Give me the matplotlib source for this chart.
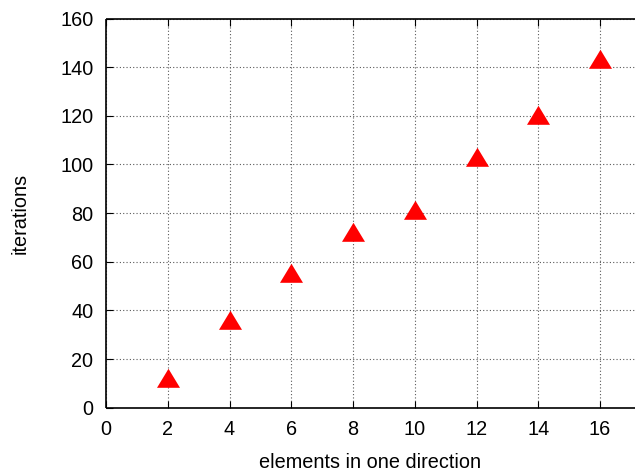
import numpy as np
import matplotlib
matplotlib.use("Agg")
import matplotlib.pyplot as plt

plt.rcParams['font.family'] = ['Liberation Sans', 'DejaVu Sans']

elements = [2, 4, 6, 8, 10, 12, 14, 16]
iterations = [11, 35, 54, 71, 80, 102, 119, 142]
xticks = [0, 2, 4, 6, 8, 10, 12, 14, 16]
yticks = [0, 20, 40, 60, 80, 100, 120, 140, 160]

# gnuplot style triangle: apex 2/3 of height above the point, base 1/3 below
tri = [(0, 12.7), (-11.5, -6.3), (11.5, -6.3), (0, 12.7)]

fig = plt.figure(figsize=(6.36, 4.72), dpi=100)
px_per_unit = 30.875
width_px = 529
ax = fig.add_axes([106/636, 1 - 407.7/472, width_px/636, 389.2/472])

ax.plot(elements, iterations, linestyle='none', marker=tri, markersize=18.3,
        color='red', markeredgewidth=0, zorder=3)

ax.set_xlim(0, width_px / px_per_unit)
ax.set_ylim(0, 160)
ax.set_xticks(xticks)
ax.set_yticks(yticks)
ax.tick_params(direction='in', length=5, width=0.8, top=True, right=False,
               labelsize=14.3, pad=9)
ax.grid(True, color='0.35', linestyle=(0, (1, 2)), linewidth=0.8)
for s in ax.spines.values():
    s.set_linewidth(1.2)
    s.set_capstyle('butt')
ax.spines['right'].set_visible(False)

ax.set_xlabel('elements in one direction', fontsize=14.3, labelpad=10)
ax.set_ylabel('iterations', fontsize=14.3, labelpad=22)

fig.savefig('out.png', dpi=100)
